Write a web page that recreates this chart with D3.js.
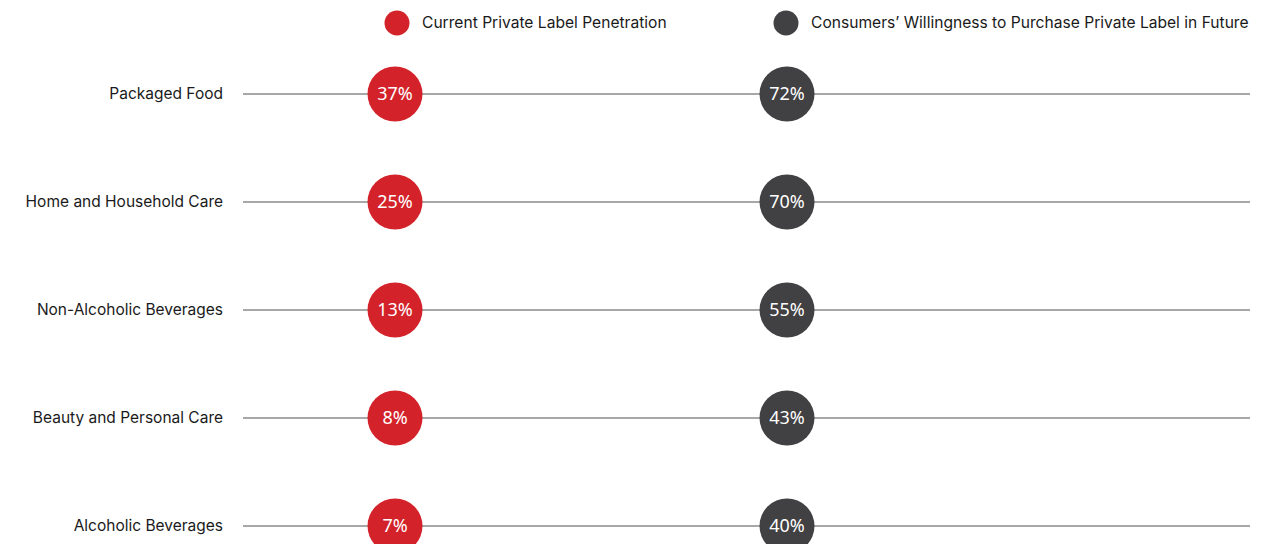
<!DOCTYPE html>
<html>
<head>
<meta charset="utf-8">
<script src="https://cdn.jsdelivr.net/npm/d3@7"></script>
<style>
    body { margin: 0; background: #fff; }
    svg text { font-family: Inter, "Noto Sans", sans-serif; }
</style>
</head>
<body>
<div class="main_content"></div>
<script>
// Chart values
const categories = ['Packaged Food', 'Home and Household Care', 'Non-Alcoholic Beverages', 'Beauty and Personal Care', 'Alcoholic Beverages'];
const seriesNames = ['Current Private Label Penetration', 'Consumers\u2019 Willingness to Purchase Private Label in Future'];
const currentPenetration = [37, 25, 13, 8, 7];
const futureWillingness = [72, 70, 55, 43, 40];
const seriesColors = ['#d3222a', '#414042'];

const width = 1281, height = 544;

const svg = d3.select('.main_content')
    .append('svg')
    .attr('width', width)
    .attr('height', height);

// Scales: rows and the two fixed columns
let yScale = d3.scalePoint()
    .domain(categories)
    .range([94, 526]);

let colScale = d3.scalePoint()
    .domain(seriesNames)
    .range([395, 787]);

let legendScale = d3.scalePoint()
    .domain(seriesNames)
    .range([397, 786]);

let colorScale = d3.scaleOrdinal()
    .domain(seriesNames)
    .range(seriesColors);

// Legend
let legend = svg.selectAll('g.legend')
    .data(seriesNames)
    .enter().append('g')
    .classed('legend', true)
    .attr('transform', d => 'translate(' + legendScale(d) + ',23)');

legend.append('circle')
    .attr('r', 12.5)
    .style('fill', d => colorScale(d));

legend.append('text')
    .attr('x', 25)
    .attr('dy', '0.35em')
    .style('font-size', '15.6px')
    .style('fill', '#1a1a1a')
    .text(d => d);

// Rows
let rows = svg.selectAll('g.row')
    .data(categories)
    .enter().append('g')
    .classed('row', true)
    .attr('transform', d => 'translate(0,' + yScale(d) + ')');

rows.append('line')
    .attr('x1', 243)
    .attr('x2', 1250)
    .style('stroke', '#8a8a8a')
    .style('stroke-width', 1.3);

rows.append('text')
    .attr('x', 223)
    .attr('dy', '0.3em')
    .style('text-anchor', 'end')
    .style('font-size', '15.5px')
    .style('fill', '#1a1a1a')
    .text(d => d);

// Dots
const seriesValues = [currentPenetration, futureWillingness];
seriesNames.forEach((name, s) => {
    let dots = svg.selectAll('g.dot-' + s)
        .data(categories.map((c, i) => ({cat: c, value: seriesValues[s][i]})))
        .enter().append('g')
        .attr('class', 'dot-' + s)
        .attr('transform', d => 'translate(' + colScale(name) + ',' + yScale(d.cat) + ')');

    dots.append('circle')
        .attr('r', 27.5)
        .style('fill', colorScale(name));

    dots.append('text')
        .attr('dy', '0.36em')
        .style('text-anchor', 'middle')
        .style('font-family', '"Noto Sans", sans-serif')
        .style('font-size', '18px')
        .style('fill', '#fff')
        .text(d => d.value + '%');
});
</script>
</body>
</html>
